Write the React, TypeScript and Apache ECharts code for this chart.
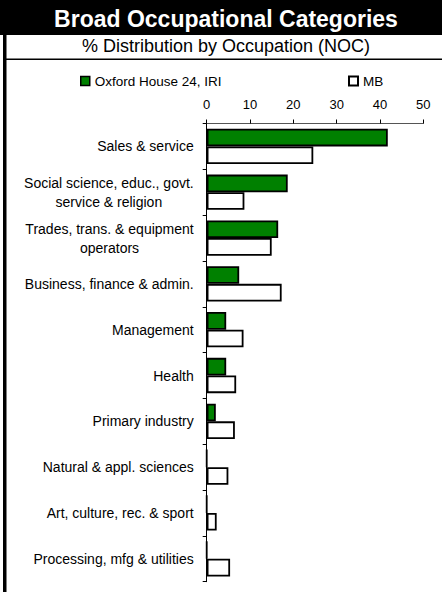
import React, { useEffect, useRef } from "react";
import * as echarts from "echarts";

const categories = [
  "Sales & service",
  "Social science, educ., govt.\nservice & religion",
  "Trades, trans. & equipment\noperators",
  "Business, finance & admin.",
  "Management",
  "Health",
  "Primary industry",
  "Natural & appl. sciences",
  "Art, culture, rec. & sport",
  "Processing, mfg & utilities",
];
const oxfordValues = [41.8, 18.7, 16.5, 7.5, 4.5, 4.5, 2.1, 0, 0, 0];
const mbValues = [24.6, 8.7, 15.0, 17.3, 8.5, 6.8, 6.5, 5.0, 2.3, 5.4];
const seriesNames = ["Oxford House 24, IRI", "MB"];
const titleText = "Broad Occupational Categories";
const subtitleText = "% Distribution by Occupation (NOC)";

const FONT = "'Liberation Sans', Arial, sans-serif";

export default function App() {
  const ref = useRef<HTMLDivElement>(null);
  useEffect(() => {
    if (!ref.current) return;
    const chart = echarts.init(ref.current, null, { renderer: "svg" });
    chart.setOption({
      animation: false,
      backgroundColor: "#ffffff",
      textStyle: { fontFamily: FONT },
      graphic: [
        { type: "rect", z: 0, shape: { x: 0, y: 0, width: 442, height: 35 }, style: { fill: "#000" } },
        { type: "rect", z: 0, shape: { x: 3, y: 0, width: 3.5, height: 592 }, style: { fill: "#000" } },
        { type: "line", z: 0, shape: { x1: 3, y1: 59.3, x2: 442, y2: 59.3 }, style: { stroke: "#000", lineWidth: 1.5 } },
        {
          type: "text", z: 1, x: 226, y: 19,
          style: { text: titleText, fill: "#fff", font: `bold 23px ${FONT}`, align: "center", verticalAlign: "middle" },
        },
        {
          type: "text", z: 1, x: 226, y: 46,
          style: { text: subtitleText, fill: "#000", font: `18px ${FONT}`, align: "center", verticalAlign: "middle" },
        },
      ],
      legend: [
        {
          data: [seriesNames[0]], left: 80, top: 74, padding: 0, icon: "rect", itemWidth: 9, itemHeight: 9,
          itemGap: 5, textStyle: { fontSize: 13.5, color: "#000", fontFamily: FONT },
          itemStyle: { borderColor: "#000", borderWidth: 1.5 },
        },
        {
          data: [seriesNames[1]], left: 348, top: 74, padding: 0, icon: "rect", itemWidth: 9, itemHeight: 9,
          textStyle: { fontSize: 13.5, color: "#000", fontFamily: FONT },
          itemStyle: { borderColor: "#000", borderWidth: 2 },
        },
      ],
      grid: { left: 206.7, right: 18.7, top: 123.5, bottom: 10.3, containLabel: false },
      xAxis: {
        type: "value", position: "top", min: 0, max: 50, interval: 10,
        axisLine: { show: true, lineStyle: { color: "#555", width: 1 } },
        axisTick: { show: true, length: 4, lineStyle: { color: "#000" } },
        axisLabel: { fontSize: 13, color: "#000", margin: 13, fontFamily: FONT },
        splitLine: { show: false },
      },
      yAxis: {
        type: "category", inverse: true, data: categories,
        axisLine: { show: true, lineStyle: { color: "#000", width: 1 } },
        axisTick: { show: true, length: 4, lineStyle: { color: "#000" } },
        axisLabel: {
          fontSize: 14, color: "#000", margin: 13, fontFamily: FONT, lineHeight: 19,
          formatter: (v: string) => v.split("\n").map((s) => `{c|${s}}`).join("\n"),
          rich: { c: { align: "center", fontSize: 14, color: "#000", fontFamily: FONT, lineHeight: 19 } },
        },
      },
      series: [
        {
          name: seriesNames[0], type: "bar", data: oxfordValues, barGap: "0%", barCategoryGap: "23%",
          itemStyle: { color: "#008000", borderColor: "#000", borderWidth: 1.8 },
        },
        {
          name: seriesNames[1], type: "bar", data: mbValues, barGap: "0%", barCategoryGap: "23%",
          itemStyle: { color: "#ffffff", borderColor: "#000", borderWidth: 1.8 },
        },
      ],
    });
    return () => chart.dispose();
  }, []);
  return <div ref={ref} style={{ position: "fixed", left: 0, top: 0, width: 442, height: 592 }} />;
}
